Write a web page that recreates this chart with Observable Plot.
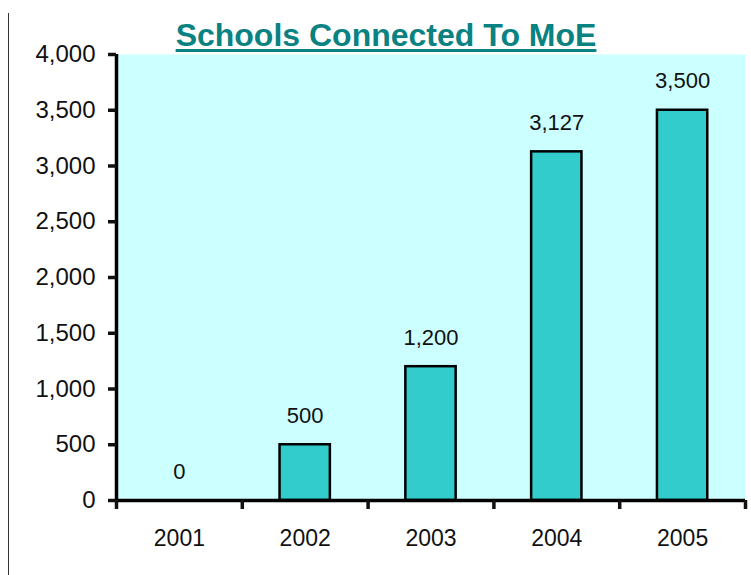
<!DOCTYPE html>
<html>
<head>
<meta charset="utf-8">
<script src="https://cdn.jsdelivr.net/npm/d3@7"></script>
<script src="https://cdn.jsdelivr.net/npm/@observablehq/plot@0.6"></script>
<style>
  html, body { margin: 0; padding: 0; background: #fff; }
  #wrap { position: relative; width: 751px; height: 575px; }
  #title { position: absolute; left: 0; width: 772px; top: 17px; text-align: center;
    font-family: "Liberation Sans", Arial, sans-serif; font-weight: bold; font-size: 32px;
    color: #0a8282; text-decoration: underline; text-decoration-thickness: 3px; text-underline-offset: 3px; }
  #edge { position: absolute; left: 8px; top: 13px; width: 1px; height: 562px; background: #333; }
</style>
</head>
<body>
<div id="wrap">
  <div id="edge"></div>
  <div id="chart"></div>
  <div id="title">Schools Connected To MoE</div>
</div>
<script>
const years = [2001, 2002, 2003, 2004, 2005];
const values = [0, 500, 1200, 3127, 3500];
const yTicks = [0, 500, 1000, 1500, 2000, 2500, 3000, 3500, 4000];
const title = "Schools Connected To MoE";

const data = years.map((year, i) => ({year, value: values[i]}));
const bounds = [years[0] - 0.5, ...years.map(y => y + 0.5)];
const fmt = d3.format(",");

const chart = Plot.plot({
  width: 751,
  height: 575,
  marginLeft: 116,
  marginRight: 6,
  marginTop: 54,
  marginBottom: 75,
  style: {fontFamily: "'Liberation Sans', Arial, sans-serif", background: "transparent", color: "#111"},
  x: {type: "linear", domain: [bounds[0], bounds[bounds.length - 1]]},
  y: {domain: [0, 4000]},
  marks: [
    Plot.frame({fill: "#ccffff", stroke: null}),
    Plot.rectY(data, {x1: d => d.year - 0.2, x2: d => d.year + 0.2, y: "value", fill: "#33cccc", stroke: "#000", strokeWidth: 2.5}),
    Plot.ruleX([bounds[0]], {stroke: "#000", strokeWidth: 3.5}),
    Plot.ruleY([0], {stroke: "#000", strokeWidth: 3.5}),
    Plot.axisY({ticks: yTicks, tickFormat: fmt, tickSize: 8, tickPadding: 13, strokeWidth: 3.5, fontSize: 24, label: null}),
    Plot.axisX({ticks: bounds, tickFormat: () => "", tickSize: 9, strokeWidth: 3.5, label: null}),
    Plot.axisX({ticks: years, tickFormat: d => String(d), tickSize: 0, tickPadding: 29, fontSize: 23, label: null}),
    Plot.text(data, {x: "year", y: "value", text: d => fmt(d.value), dy: -29, fontSize: 22, fill: "#111"})
  ]
});
document.getElementById("chart").appendChild(chart);
</script>
</body>
</html>
